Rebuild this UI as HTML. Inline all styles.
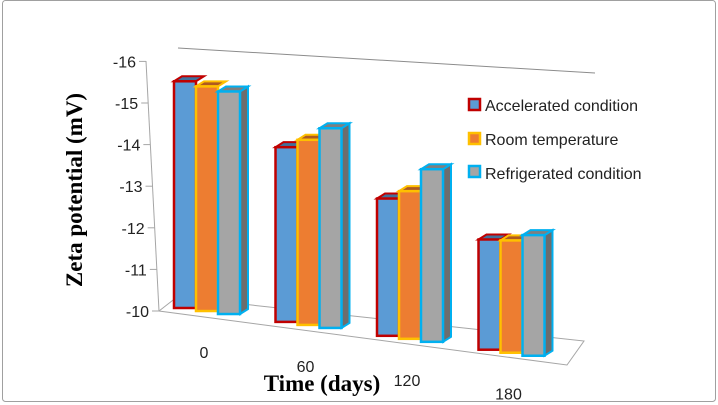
<!DOCTYPE html>
<html><head><meta charset="utf-8"><style>
html,body{margin:0;padding:0;background:#fff}
svg{display:block}
text{font-family:"Liberation Sans",sans-serif}
</style></head><body>
<svg id="chart" width="718" height="405" viewBox="0 0 718 405">
<rect x="2.5" y="0.5" width="713" height="401" rx="3" fill="#fff" stroke="#a0a0a0"/>
<line x1="178" y1="48" x2="595" y2="73" stroke="#8c8c8c" stroke-width="1"/>
<polygon points="177,297 584,341 567,365 159,311" fill="none" stroke="#a6a6a6"/>
<line x1="146" y1="61" x2="159" y2="311" stroke="#a6a6a6"/>
<g id="yticks"></g>
<g id="bars"></g>
<g id="xlabels"></g>
<text x="0" y="0" transform="translate(82,190) rotate(-90)" text-anchor="middle" font-weight="bold" font-size="23" style="font-family:'Liberation Serif',serif">Zeta potential (mV)</text>
<text x="322" y="391" text-anchor="middle" font-weight="bold" font-size="23" style="font-family:'Liberation Serif',serif">Time (days)</text>
<g>
<g><rect x="469" y="99" width="11" height="11" fill="#5b9bd5" stroke="#c00000" stroke-width="2.5"/><text x="485" y="111" font-size="16" fill="#222">Accelerated condition</text></g>
<g><rect x="469" y="133" width="11" height="11" fill="#ed7d31" stroke="#ffc000" stroke-width="2.5"/><text x="485" y="145" font-size="16" fill="#222">Room temperature</text></g>
<g><rect x="469" y="166" width="11" height="11" fill="#a5a5a5" stroke="#00b0f0" stroke-width="2.5"/><text x="485" y="179" font-size="16" fill="#222">Refrigerated condition</text></g>
</g>
</svg>
<script>
const categories=["0","60","120","180"];
const accelerated=[-15.45,-14.2,-13.3,-12.65];
const roomTemp=[-15.4,-14.45,-13.55,-12.7];
const refrigerated=[-15.35,-14.8,-14.15,-12.9];
const yTicks=[-16,-15,-14,-13,-12,-11,-10];
const seriesNames=["accelerated","room","refrigerated"];
const NS="http://www.w3.org/2000/svg";
function mk(tag,attrs,parent){const e=document.createElementNS(NS,tag);for(const k in attrs)e.setAttribute(k,attrs[k]);parent.appendChild(e);return e;}
const pxPerUnit=41.6;
function yAxisY(v){return 311+(v+10)*pxPerUnit;}
function yAxisX(y){return 146+(y-61)*0.052;}
function groupX(i){return 174+i*101.5;}
function floorY(x){return 308+(x-174)*0.137;}
function barH(v){return (-v-10)*pxPerUnit;}
const tg=document.getElementById('yticks');
yTicks.forEach(t=>{const y=yAxisY(t);const x=yAxisX(y);
 const l=mk('line',{x1:x-7,y1:y,x2:x,y2:y,stroke:'#a6a6a6'},tg);
 
 
 const tx=mk('text',{x:x-10,y:y+6,'text-anchor':'end','font-size':'16',fill:'#222'},tg);
 tx.textContent=t;
 
 
});
const series=[accelerated,roomTemp,refrigerated];
const fills=["#5b9bd5","#ed7d31","#a5a5a5"];
const tops=["#41719c","#ae5a21","#7f7f7f"];
const strokes=["#c00000","#ffc000","#00b0f0"];
const bg=document.getElementById('bars');
const W=22,D=8,T=5;
categories.forEach((c,i)=>{
 for(let s=0;s<3;s++){
  const x=groupX(i)+s*W;
  const yb=floorY(x);
  const h=barH(series[s][i]);
  const yt=yb-h;
  const g=mk('g',{},bg);
  
  
  if(s===2){mk('polygon',{points:`${x+W},${yt} ${x+W+D},${yt-T} ${x+W+D},${yb-T} ${x+W},${yb}`,fill:'#6d6d6d',stroke:strokes[s],'stroke-width':2},g);}
  mk('polygon',{points:`${x},${yt} ${x+D},${yt-T} ${x+W+D},${yt-T} ${x+W},${yt}`,fill:tops[s],stroke:strokes[s],'stroke-width':2},g);
  mk('rect',{x:x,y:yt,width:W,height:h,fill:fills[s],stroke:strokes[s],'stroke-width':2.5},g);
 }
});
const xg=document.getElementById('xlabels');
categories.forEach((c,i)=>{
 const t=mk('text',{x:groupX(i)+30,y:floorY(groupX(i))+50,'text-anchor':'middle','font-size':'16',fill:'#222'},xg);
 t.textContent=c;
 
 
});
</script>
</body></html>
